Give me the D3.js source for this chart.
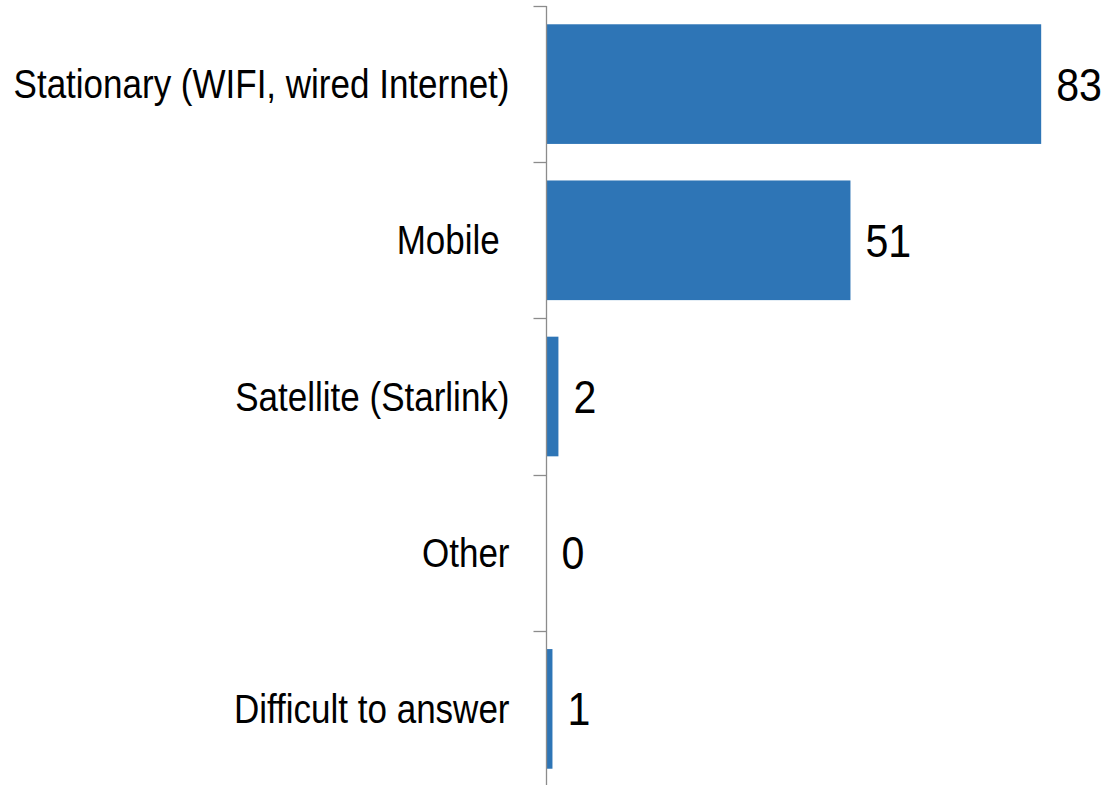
<!DOCTYPE html>
<html>
<head>
<meta charset="utf-8">
<script src="https://cdn.jsdelivr.net/npm/d3@7"></script>
<style>
  html, body { margin: 0; padding: 0; background: #fff; }
  svg { display: block; }
  text { font-family: "Liberation Sans", Arial, sans-serif; fill: #000; }
</style>
</head>
<body>
<svg id="chart" width="1107" height="785"></svg>
<script>
const categories = ["Stationary (WIFI, wired Internet)", "Mobile ", "Satellite (Starlink)", "Other", "Difficult to answer"];
const values = [83, 51, 2, 0, 1];

const svg = d3.select("#chart");
const axisX = 546.5;
const x = d3.scaleLinear().domain([0, 100]).range([axisX, axisX + 596]);
const y = d3.scaleBand().domain(categories).range([6, 787]).paddingInner(0.234).paddingOuter(0.117);
const squeeze = 0.875;

// bars
svg.selectAll("rect.bar")
  .data(categories)
  .join("rect")
  .attr("class", "bar")
  .attr("x", x(0))
  .attr("y", d => y(d))
  .attr("width", (d, i) => x(values[i]) - x(0))
  .attr("height", y.bandwidth())
  .attr("fill", "#2E75B6");

// axis line and ticks at band boundaries
const step = y.step();
const bounds = d3.range(categories.length + 1).map(i => y.range()[0] + i * step);
svg.append("line")
  .attr("x1", axisX).attr("x2", axisX)
  .attr("y1", y.range()[0]).attr("y2", 785)
  .attr("stroke", "#8c8c8c").attr("stroke-width", 1.3);
svg.selectAll("line.tick")
  .data(bounds)
  .join("line")
  .attr("class", "tick")
  .attr("x1", axisX - 13).attr("x2", axisX)
  .attr("y1", d => Math.round(d) + 0.5).attr("y2", d => Math.round(d) + 0.5)
  .attr("stroke", "#8c8c8c").attr("stroke-width", 1.3);

// category labels
svg.selectAll("g.cat")
  .data(categories)
  .join("g")
  .attr("class", "cat")
  .attr("transform", d => `translate(509.5,${y(d) + y.bandwidth() / 2}) scale(${squeeze},1)`)
  .append("text")
  .attr("text-anchor", "end")
  .attr("dy", "0.35em")
  .attr("font-size", 40)
  .style("white-space", "pre")
  .attr("xml:space", "preserve")
  .text(d => d);

// value labels
svg.selectAll("g.val")
  .data(categories)
  .join("g")
  .attr("class", "val")
  .attr("transform", (d, i) => `translate(${x(values[i]) + 15},${y(d) + y.bandwidth() / 2}) scale(${squeeze},1)`)
  .append("text")
  .attr("text-anchor", "start")
  .attr("dy", "0.35em")
  .attr("font-size", 47)
  .text((d, i) => values[i]);
</script>
</body>
</html>
